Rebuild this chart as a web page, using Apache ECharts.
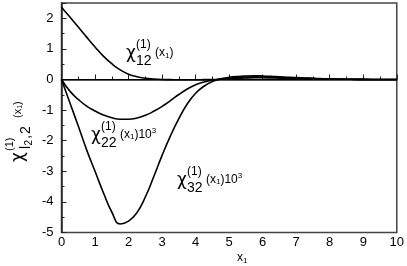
<!DOCTYPE html>
<html><head><meta charset="utf-8">
<script src="https://cdn.jsdelivr.net/npm/echarts@6/dist/echarts.min.js"></script>
<style>html,body{margin:0;padding:0;background:#fff}#c{width:407px;height:266px}</style>
</head><body><div id="c"></div>
<script>
// ---- data ----
const xValues = [0,0.25,0.5,0.75,1,1.25,1.5,1.75,2,2.25,2.5,2.75,3,3.25,3.5,3.75,4,4.25,4.5,4.75,5,5.25,5.5,5.75,6,6.25,6.5,6.75,7,7.25,7.5,7.75,8,8.25,8.5,8.75,9,9.25,9.5,9.75,10];
const chi12 = [2.36,2.04,1.715,1.385,1.065,0.765,0.515,0.315,0.175,0.09,0.04,0.015,0.0,-0.005,-0.01,-0.01,-0.01,-0.005,0.0,0.01,0.025,0.04,0.05,0.055,0.055,0.05,0.045,0.04,0.035,0.03,0.025,0.02,0.015,0.01,0.008,0.005,0.003,0.002,0.001,0,0];
const chi22 = [0,-0.38,-0.65,-0.87,-1.03,-1.16,-1.25,-1.30,-1.30,-1.26,-1.17,-1.04,-0.88,-0.69,-0.49,-0.31,-0.17,-0.08,-0.02,0.02,0.05,0.07,0.08,0.085,0.08,0.075,0.065,0.055,0.045,0.035,0.03,0.02,0.015,0.01,0.007,0.005,0.003,0.002,0.001,0,0];
const chi32 = [0,-0.76,-1.52,-2.30,-3.0,-3.70,-4.33,-4.72,-4.63,-4.35,-3.84,-3.18,-2.48,-1.84,-1.28,-0.80,-0.45,-0.22,-0.07,0.02,0.07,0.10,0.115,0.12,0.115,0.105,0.09,0.075,0.06,0.05,0.04,0.03,0.022,0.015,0.01,0.007,0.004,0.002,0.001,0,0];
const xMin = 0, xMax = 10, xStep = 1;
const yMin = -5, yMax = 2.5, yStep = 1;

// ---- helpers ----
const FONT = "'Liberation Sans', Arial, Helvetica, sans-serif";
const GREEK = "'DejaVu Sans', 'Liberation Sans', sans-serif";
const ctx = document.createElement('canvas').getContext('2d');
function tw(t, s, f){ ctx.font = s + 'px ' + (f||FONT); return ctx.measureText(t).width; }
function txt(x, y, t, s, f){
  return {type:'text', x:x, y:y, silent:true,
    style:{text:t, font:s+'px '+(f||FONT), fill:'#000', align:'left', verticalAlign:'middle', textAlign:'left', textVerticalAlign:'middle'}};
}
function run(x, y, parts){
  const out = []; let cx = x;
  parts.forEach(function(p){ out.push(txt(cx, y + (p[2]||0), p[0], p[1])); cx += tw(p[0], p[1]) + (p[3]||0); });
  return out;
}
function chiLabel(x, c, sub, tail){
  let els = [txt(x-1, c-2, 'χ', 17, GREEK), txt(x+9, c-11, '(1)', 12)];
  els = els.concat(run(x+9, c+5.5, sub));
  els = els.concat(run(x+28, c-3, tail));
  return els;
}
const tailX = [['(x',12,0],['1',8,2.5],[')',12,0]];
const tailX3 = [['(x',12,0],['1',8,2.5],[')',12,0],['10',12,0],['3',8,-4]];

const graphics = []
  .concat(chiLabel(127, 56, [['12',14,0]], tailX))
  .concat(chiLabel(92, 137.5, [['22',14,0]], tailX3))
  .concat(chiLabel(178, 182.5, [['32',14,0]], tailX3));

// rotated y-axis name
const yName = [txt(-1, -2, 'χ', 17, GREEK), txt(10, -11, '(1)', 11)]
  .concat(run(12, 5.5, [['l',14,0,0.5],['2',10,3,1],[',',14,0,1],['2',14,0]]))
  .concat(run(43, -3, [['(x',11,0],['1',7,2.5],[')',11,0]]));
graphics.push({type:'group', x:21, y:161, rotation:Math.PI/2, children:yName});
// x-axis name
graphics.push.apply(graphics, run(237, 257.5, [['x',12,0],['1',8,3]]));

function seriesData(vals){ return xValues.map(function(x,i){ return [x, vals[i]]; }); }
const lineStyle = {color:'#000', width:1.6};
function mk(name, vals){
  return {name:name, type:'line', data:seriesData(vals), smooth:0.5, showSymbol:false, symbol:'none',
    lineStyle:lineStyle, itemStyle:{color:'#000'}, animation:false, z:3};
}

const chart = echarts.init(document.getElementById('c'), null, {renderer:'canvas'});
const series = [mk('chi12', chi12), mk('chi22', chi22), mk('chi32', chi32)];
series[0].markLine = {silent:true, symbol:'none', label:{show:false}, lineStyle:{color:'#000', width:1, type:'solid'}, data:[{yAxis:0}], animation:false};

chart.setOption({
  animation:false,
  backgroundColor:'#fff',
  grid:{left:61.5, right:9.5, top:3, bottom:33.5, show:true, borderColor:'#444', borderWidth:1.5, backgroundColor:'transparent'},
  xAxis:{type:'value', min:xMin, max:xMax, interval:xStep,
    axisLine:{show:true, lineStyle:{color:'#222', width:1.5}},
    axisTick:{show:true, inside:true, length:5, lineStyle:{color:'#222', width:1}},
    minorTick:{show:true, splitNumber:2, length:3, lineStyle:{color:'#222', width:1}},
    splitLine:{show:false}, minorSplitLine:{show:false},
    axisLabel:{color:'#000', fontSize:13, fontFamily:FONT, margin:3}},
  yAxis:{type:'value', min:yMin, max:yMax, interval:yStep,
    axisLine:{show:true, lineStyle:{color:'#222', width:1.5}},
    axisTick:{show:true, inside:true, length:5, lineStyle:{color:'#222', width:1}},
    minorTick:{show:true, splitNumber:2, length:3, lineStyle:{color:'#222', width:1}},
    splitLine:{show:false}, minorSplitLine:{show:false},
    axisLabel:{color:'#000', fontSize:13, fontFamily:FONT, margin:8,
      formatter:function(v){ return Number.isInteger(v) ? String(v) : ''; }}},
  series:series,
  graphic:graphics
});
</script></body></html>
